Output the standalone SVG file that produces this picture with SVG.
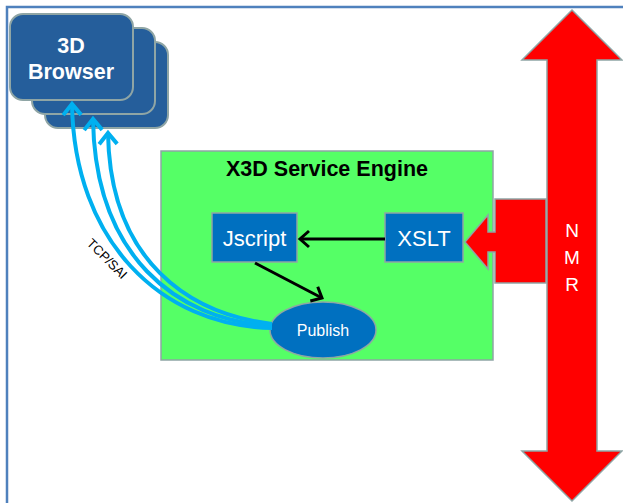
<svg xmlns="http://www.w3.org/2000/svg" width="623" height="503" viewBox="0 0 623 503">
<defs>
<style>
.frame{fill:none;stroke:#4F81BD;stroke-width:2.5}
.br{fill:#255E9B;stroke:#8FA5A5;stroke-width:2}
.bt{font-family:"Liberation Sans",Arial,sans-serif;font-weight:bold;font-size:21.5px;fill:#fff;text-anchor:middle}
.eng{fill:#55FF66;stroke:#8FA5A5;stroke-width:1.5}
.title{font-family:"Liberation Sans",Arial,sans-serif;font-weight:bold;font-size:21.5px;fill:#000;text-anchor:middle}
.box{fill:#0070C0;stroke:#8FA5A5;stroke-width:1.5}
.bx{font-family:"Liberation Sans",Arial,sans-serif;font-size:22px;fill:#fff;text-anchor:middle}
.pt{font-family:"Liberation Sans",Arial,sans-serif;font-size:16px;fill:#fff;text-anchor:middle}
.red{fill:#FF0000;stroke:#8FA5A5;stroke-width:1.5}
.nmr{font-family:"Liberation Sans",Arial,sans-serif;font-size:19px;fill:#fff;text-anchor:middle}
.blk{fill:none;stroke:#000;stroke-width:3}
.blu{fill:none;stroke:#00B0F0;stroke-width:4}
.lbl{font-family:"Liberation Sans",Arial,sans-serif;font-size:13px;fill:#000;text-anchor:middle}
</style>
<marker id="ak" viewBox="-12 -12 24 24" refX="0" refY="0" markerWidth="24" markerHeight="24" orient="auto" markerUnits="userSpaceOnUse" overflow="visible">
<path d="M-9,-8 L0,0 L-9,8" fill="none" stroke="#000" stroke-width="3"/>
</marker>
<marker id="ab" viewBox="-14 -14 28 28" refX="0" refY="0" markerWidth="28" markerHeight="28" orient="auto" markerUnits="userSpaceOnUse" overflow="visible">
<path d="M-11,-9 L0,0 L-11,9" fill="none" stroke="#00B0F0" stroke-width="4"/>
</marker>
</defs>
<rect width="623" height="503" fill="#fff"/>
<path class="frame" d="M7,503 L7,7 L623,7"/>

<g id="browser">
<rect class="br" x="45" y="42" width="123" height="86" rx="13"/>
<rect class="br" x="32" y="28" width="123" height="86" rx="13"/>
<rect class="br" x="10" y="14" width="123" height="86" rx="13"/>
<text class="bt" x="71" y="53">3D</text>
<text class="bt" x="71" y="79">Browser</text>
</g>

<g id="engine">
<rect class="eng" x="161" y="151" width="332" height="209"/>
<text class="title" x="327" y="176">X3D Service Engine</text>
</g>

<g id="nmr">
<path class="red" d="M572,10 L622,60 L597,60 L597,451 L622,451 L572,501 L522,451 L547,451 L547,60 L522,60 Z"/>
<text class="nmr" x="572" y="237">N</text>
<text class="nmr" x="572" y="264">M</text>
<text class="nmr" x="572" y="291">R</text>
</g>

<g id="nmr-input">
<path class="red" d="M546,199 L495,199 L495,232 L488,232 L488,215 L465,242 L488,269 L488,252 L495,252 L495,283 L546,283 Z"/>
</g>

<g id="jscript">
<rect class="box" x="212" y="213" width="85" height="49"/>
<text class="bx" x="254.5" y="246">Jscript</text>
</g>

<g id="xslt">
<rect class="box" x="385" y="213" width="78" height="49"/>
<text class="bx" x="424" y="246">XSLT</text>
</g>

<g id="publish">
<ellipse class="box" cx="323" cy="330" rx="53" ry="28"/>
<text class="pt" x="323" y="336">Publish</text>
</g>

<g id="connectors">
<line class="blk" x1="385" y1="239" x2="300" y2="239" marker-end="url(#ak)"/>
<line class="blk" x1="255" y1="263" x2="322" y2="298" marker-end="url(#ak)"/>
<path class="blu" d="M272,328 C160,326 74,240 72,104" marker-end="url(#ab)"/>
<path class="blu" d="M272,326 C175,320 95,255 93,119" marker-end="url(#ab)"/>
<path class="blu" d="M272,324 C190,314 110,262 108,133" marker-end="url(#ab)"/>
<text class="lbl" transform="translate(104,262) rotate(45)">TCP/SAI</text>
</g>
</svg>
